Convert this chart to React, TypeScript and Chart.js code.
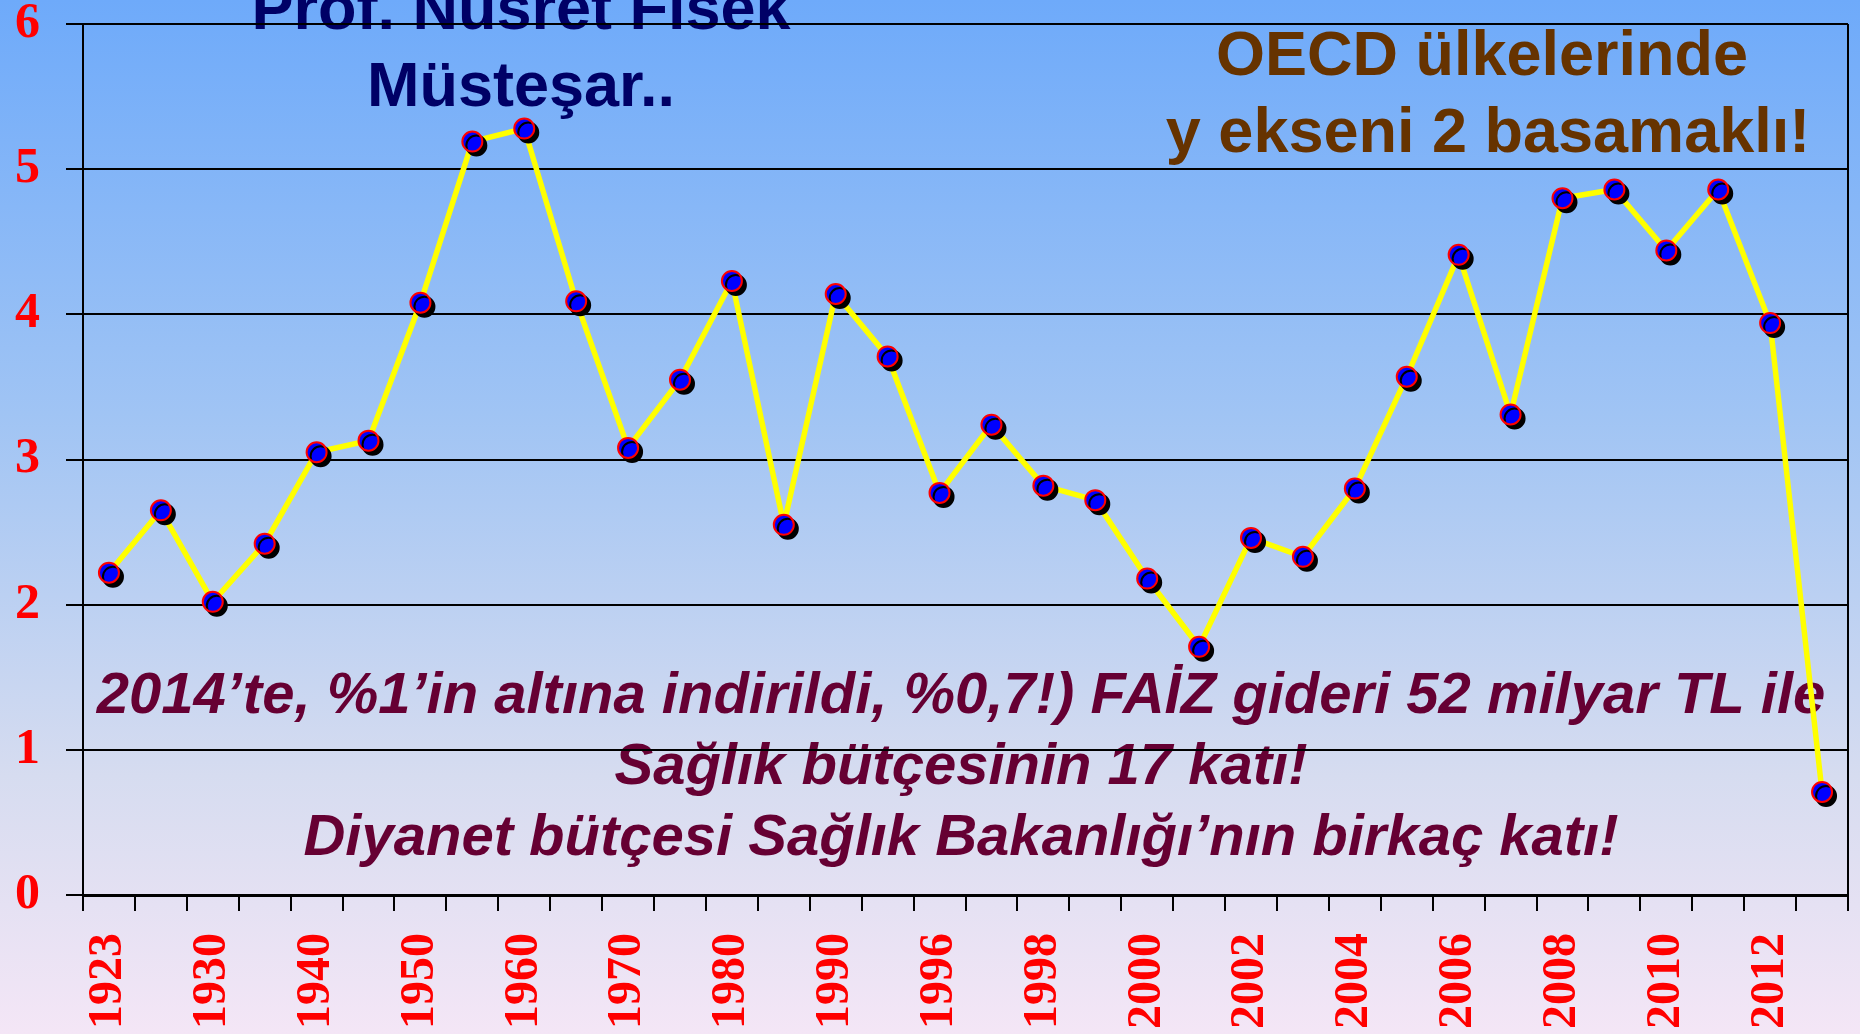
import React, { useEffect, useRef } from 'react';
import { Chart, registerables } from 'chart.js';

Chart.register(...registerables);

// Categories (years) – only every other one is labelled on the axis
const years = [
  '1923', '1925', '1930', '1935', '1940', '1945', '1950', '1955', '1960', '1965',
  '1970', '1975', '1980', '1985', '1990', '1993', '1996', '1997', '1998', '1999',
  '2000', '2001', '2002', '2003', '2004', '2005', '2006', '2007', '2008', '2009',
  '2010', '2011', '2012', '2013',
];
const shownYearLabels = [
  '1923', '1930', '1940', '1950', '1960', '1970', '1980', '1990', '1996', '1998',
  '2000', '2002', '2004', '2006', '2008', '2010', '2012',
];
const values = [
  2.22, 2.65, 2.02, 2.42, 3.05, 3.13, 4.08, 5.19, 5.28, 4.09,
  3.08, 3.55, 4.23, 2.55, 4.14, 3.71, 2.77, 3.24, 2.82, 2.72,
  2.18, 1.71, 2.46, 2.33, 2.80, 3.57, 4.41, 3.31, 4.80, 4.86,
  4.44, 4.86, 3.94, 0.71,
];
const yTicks = [0, 1, 2, 3, 4, 5, 6];

const titleLeft = ['Prof. Nusret Fisek', 'Müsteşar..'];
const titleRight = ['OECD ülkelerinde', 'y ekseni 2 basamaklı!'];
const noteLines = [
  '2014’te, %1’in altına indirildi, %0,7!) FAİZ gideri 52 milyar TL ile',
  'Sağlık bütçesinin 17 katı!',
  'Diyanet bütçesi Sağlık Bakanlığı’nın birkaç katı!',
];

const SANS = '"Liberation Sans", Arial, sans-serif';
const SERIF = '"Liberation Serif", "Times New Roman", serif';

const textPlugin = {
  id: 'annotTexts',
  beforeDraw(chart: any) {
    const ctx = chart.ctx;
    ctx.save();
    ctx.textAlign = 'center';
    ctx.textBaseline = 'alphabetic';
    ctx.fillStyle = '#000066';
    ctx.font = `bold 63px ${SANS}`;
    ctx.fillText(titleLeft[0], 521, 29);
    ctx.fillText(titleLeft[1], 521, 106);
    ctx.fillStyle = '#663300';
    ctx.fillText(titleRight[0], 1482, 75);
    ctx.fillText(titleRight[1], 1488, 152);
    ctx.fillStyle = '#660033';
    ctx.font = `italic bold 58px ${SANS}`;
    ctx.fillText(noteLines[0], 961, 713);
    ctx.fillText(noteLines[1], 961, 784);
    ctx.fillText(noteLines[2], 961, 855);
    ctx.restore();
  },
};

const framePlugin = {
  id: 'rightFrame',
  beforeDatasetsDraw(chart: any) {
    const { ctx, chartArea } = chart;
    ctx.save();
    ctx.strokeStyle = '#000';
    ctx.lineWidth = 2;
    ctx.beginPath();
    ctx.moveTo(chartArea.right, chartArea.top);
    ctx.lineTo(chartArea.right, chartArea.bottom);
    ctx.stroke();
    ctx.restore();
  },
};

const shadowPlugin = {
  id: 'dotShadow',
  beforeDatasetDraw(chart: any, args: any) {
    if (args.index === 0) {
      const ctx = chart.ctx;
      ctx.save();
      ctx.shadowColor = '#000000';
      ctx.shadowOffsetX = 4;
      ctx.shadowOffsetY = 4;
      ctx.shadowBlur = 0;
    }
  },
  afterDatasetDraw(chart: any, args: any) {
    if (args.index === 0) chart.ctx.restore();
  },
};

export default function App() {
  const ref = useRef<HTMLCanvasElement | null>(null);

  useEffect(() => {
    if (!ref.current) return;
    const chart = new Chart(ref.current, {
      type: 'line',
      data: {
        labels: years,
        datasets: [
          {
            label: 'points',
            data: values,
            showLine: false,
            pointRadius: 10,
            pointHoverRadius: 10,
            pointBackgroundColor: '#0000ff',
            pointBorderColor: '#ff0000',
            pointBorderWidth: 2,
            clip: false as any,
          },
          {
            label: 'line',
            data: values,
            borderColor: '#ffff00',
            borderWidth: 5.5,
            pointRadius: 0,
            tension: 0,
            fill: false,
          },
        ],
      },
      options: {
        responsive: true,
        maintainAspectRatio: false,
        animation: false,
        events: [],
        layout: { padding: { top: 24, right: 12, left: 0, bottom: 0 } },
        plugins: {
          legend: { display: false },
          tooltip: { enabled: false },
          title: { display: false },
        },
        scales: {
          x: {
            type: 'category',
            offset: true,
            grid: {
              offset: true,
              drawOnChartArea: false,
              drawTicks: true,
              tickLength: 16,
              color: '#000',
              lineWidth: 2,
            },
            border: { display: true, color: '#000', width: 3 },
            ticks: {
              autoSkip: false,
              minRotation: 90,
              maxRotation: 90,
              padding: 22,
              color: '#ff0000',
              font: { family: SERIF, size: 48, weight: 'bold' },
              callback: function (this: any, value: any) {
                const lab = this.getLabelForValue(value);
                return shownYearLabels.includes(lab) ? lab : '';
              },
            },
            afterFit: (scale: any) => {
              scale.height = 139;
              scale.paddingLeft = 0;
              scale.paddingRight = 0;
            },
          },
          y: {
            min: 0,
            max: 6,
            afterBuildTicks: (scale: any) => {
              scale.ticks = yTicks.map((v) => ({ value: v }));
            },
            grid: {
              color: '#000',
              lineWidth: 2,
              drawTicks: true,
              tickLength: 17,
            },
            border: { display: true, color: '#000', width: 2 },
            ticks: {
              padding: 26,
              color: '#ff0000',
              font: { family: SERIF, size: 50, weight: 'bold' },
            },
            afterFit: (scale: any) => {
              scale.width = 83;
              scale.paddingTop = 0;
              scale.paddingBottom = 0;
            },
          },
        },
      },
      plugins: [textPlugin, framePlugin, shadowPlugin],
    } as any);
    return () => chart.destroy();
  }, []);

  return (
    <div
      style={{
        position: 'fixed',
        left: 0,
        top: 0,
        width: 1860,
        height: 1034,
        overflow: 'hidden',
        background: 'linear-gradient(to bottom, rgb(110,170,250) 0%, rgb(160,196,244) 40%, rgb(214,220,240) 75%, rgb(244,230,246) 100%)',
      }}
    >
      <div style={{ position: 'relative', width: 1860, height: 1034 }}>
        <canvas ref={ref} />
      </div>
    </div>
  );
}
